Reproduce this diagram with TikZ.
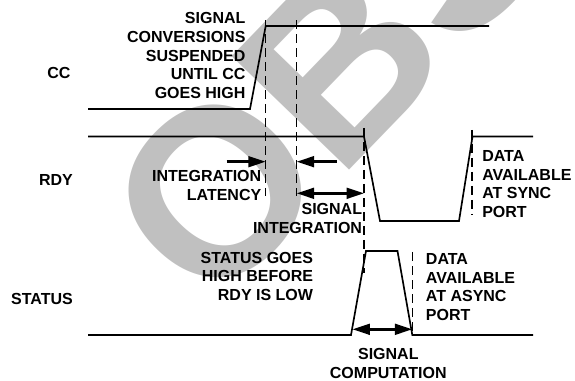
\documentclass[tikz,border=0pt]{standalone}
\usepackage{fontspec}
\setmainfont{Liberation Sans}
\usetikzlibrary{arrows.meta}
\definecolor{wmgray}{RGB}{192,192,192}

\begin{document}
\begin{tikzpicture}[x=0.75pt,y=-0.75pt,
  wave/.style={line width=1.25pt},
  guide/.style={line width=0.9pt, dash pattern=on 6.5pt off 4pt},
  span/.style={line width=2pt, -{Triangle[length=13pt,width=8pt]}},
  spans/.style={line width=2pt, {Triangle[length=13pt,width=8pt]}-{Triangle[length=13pt,width=8pt]}},
  lbl/.style={font=\bfseries\fontsize{12}{14}\selectfont, inner sep=0pt}]
\useasboundingbox (0,0) rectangle (575,381);
% watermark
\begin{scope}
\clip (0,0) rectangle (575,381);
\node[text=wmgray, font=\bfseries\fontsize{178}{178}\selectfont, rotate=46,
  anchor=base west, inner sep=0pt] (obs) at (210,314.2) {OBSOLETE};
\end{scope}
% time markers
\coordinate (ccup) at (265.7,0);
\coordinate (intst) at (296.7,0);
\coordinate (rdydn) at (364,0);
\coordinate (stdn) at (412.3,0);
\coordinate (rdyup) at (472,0);
% waveforms
\draw[wave] (88,109) -- (250,109) -- (ccup |- 0,26) -- (489,26);
\draw[wave] (88,136.5) -- (rdydn |- 0,136.5) -- (380,221) -- (459,221) -- (472.5,136.5) -- (533,136.5);
\draw[wave] (88,335) -- (351,335) -- (366,251) -- (397.5,251) -- (stdn |- 0,335) -- (533,335);
% dashed guides
\draw[guide] (ccup |- 0,20.5) -- (ccup |- 0,196);
\draw[guide] (intst |- 0,20.5) -- (intst |- 0,196);
\draw[guide] (rdydn |- 0,128) -- (rdydn |- 0,273);
\draw[guide] (stdn |- 0,252) -- (stdn |- 0,335);
\draw[guide] (rdyup |- 0,130) -- (rdyup |- 0,215);
% intervals
\draw[span] (226.7,161.7) -- (ccup |- 0,161.7);
\draw[span] (336.7,161.7) -- (intst |- 0,161.7);
\draw[spans] (intst |- 0,193.3) -- (rdydn |- 0,193.3);
\draw[spans] (352.5,329.3) -- (stdn |- 0,329.3);
% labels
\node[lbl] (cc) at (59,72.7) {CC};
\node[lbl] (rdy) at (56,180) {RDY};
\node[lbl] (status) at (42,299.3) {STATUS};
\node[lbl, align=right, anchor=east] (suspend) at (245.7,55.8) {SIGNAL\\CONVERSIONS\\SUSPENDED\\UNTIL CC\\GOES HIGH};
\node[lbl, align=right, anchor=east] (latency) at (261.5,185.8) {INTEGRATION\\LATENCY};
\node[lbl, align=right, anchor=east] (integ) at (362.3,218.8) {SIGNAL\\INTEGRATION};
\node[lbl, align=right, anchor=east] (before) at (313.3,276.2) {STATUS GOES\\HIGH BEFORE\\RDY IS LOW};
\node[lbl, align=left, anchor=west] (sync) at (482,184.2) {DATA\\AVAILABLE\\AT SYNC\\PORT};
\node[lbl, align=left, anchor=west] (async) at (425.7,287) {DATA\\AVAILABLE\\AT ASYNC\\PORT};
\node[lbl, align=center] (comp) at (388.3,363.5) {SIGNAL\\COMPUTATION};
\end{tikzpicture}
\end{document}
